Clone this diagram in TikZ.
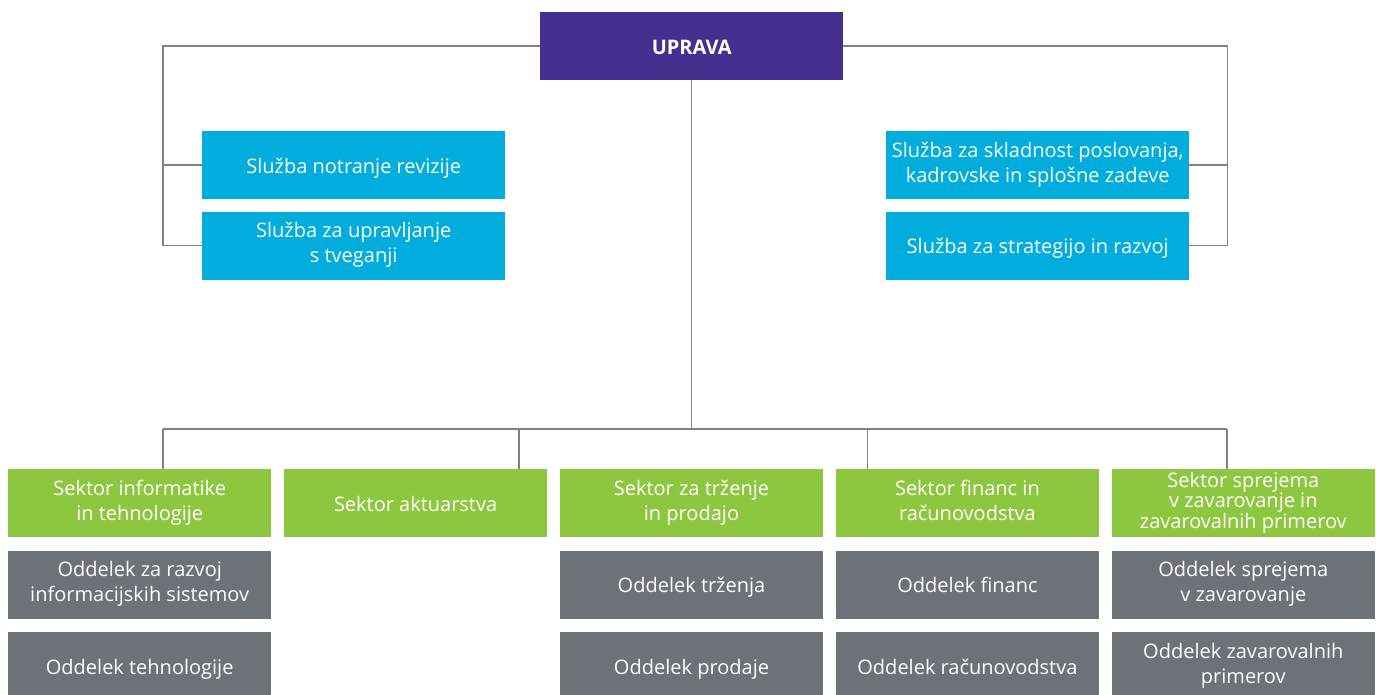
\documentclass[tikz,border=0pt]{standalone}
\usepackage{fontspec}
\setmainfont{Open Sans}
\usetikzlibrary{positioning}
\definecolor{upravaviolet}{RGB}{70,48,143}
\definecolor{sluzbablue}{RGB}{0,173,220}
\definecolor{sektorgreen}{RGB}{141,198,63}
\definecolor{oddelekgray}{RGB}{109,113,120}
\definecolor{linkgray}{RGB}{130,130,130}
\newcommand{\orgstrut}{\rule[-6pt]{0pt}{28pt}}

\begin{document}
\begin{tikzpicture}[x=1pt, y=-1pt, node distance=13pt and 12.5pt,
    box/.style={anchor=north west, inner sep=0pt, align=center, text=white, font=\fontsize{20}{25}\selectfont,
      execute at begin node=\orgstrut, execute at end node=\orgstrut},
    uprava/.style={box, fill=upravaviolet, minimum width=303pt, minimum height=68pt, font=\bfseries\fontsize{20}{24}\selectfont},
    sluzba/.style={box, fill=sluzbablue, minimum width=303pt, minimum height=68pt},
    sektor/.style={box, fill=sektorgreen, minimum width=263pt, minimum height=68pt},
    oddelek/.style={box, fill=oddelekgray, minimum width=263pt, minimum height=68pt},
    link/.style={draw=linkgray, line width=1.4pt}]
      \useasboundingbox (0,0) rectangle (1376,695);
      % top
      \node[uprava] (upr) at (540,12) {UPRAVA};
      \node[sluzba] (sni) at (202,131) {Služba notranje revizije};
      \node[sluzba, below=12pt of sni] (sut) {Služba za upravljanje\\s tveganji};
      \node[sluzba] (ssk) at (886,131) {Služba za skladnost poslovanja,\\kadrovske in splošne zadeve};
      \node[sluzba, below=12pt of ssk] (ssr) {Služba za strategijo in razvoj};
      % sektorji
      \node[sektor] (g1) at (8,469) {Sektor informatike\\in tehnologije};
      \node[sektor, right=of g1] (g2) {Sektor aktuarstva};
      \node[sektor, right=of g2] (g3) {Sektor za trženje\\in prodajo};
      \node[sektor, right=of g3] (g4) {Sektor financ in\\računovodstva};
      \node[sektor, right=of g4, font=\fontsize{20}{18.5}\selectfont] (g5) {Sektor sprejema\\v zavarovanje in\\zavarovalnih primerov};
      % oddelki
      \node[oddelek, below=of g1] (o11) {Oddelek za razvoj\\informacijskih sistemov};
      \node[oddelek, below=of o11] (o12) {Oddelek tehnologije};
      \node[oddelek, below=of g3] (o31) {Oddelek trženja};
      \node[oddelek, below=of o31] (o32) {Oddelek prodaje};
      \node[oddelek, below=of g4] (o41) {Oddelek financ};
      \node[oddelek, below=of o41] (o42) {Oddelek računovodstva};
      \node[oddelek, below=of g5] (o51) {Oddelek sprejema\\v zavarovanje};
      \node[oddelek, below=of o51] (o52) {Oddelek zavarovalnih\\primerov};
      % povezave
      \draw[link] (upr.west) -| ([xshift=-39pt]sut.west) -- (sut.west);
      \draw[link] (sni.west) -- ++(-39,0);
      \draw[link] (upr.east) -| ([xshift=38pt]ssr.east) -- (ssr.east);
      \draw[link] (ssk.east) -- ++(38,0);
      \coordinate (d1) at (163,429);
      \coordinate (d2) at (519,429);
      \coordinate (d4) at (867.5,429);
      \coordinate (d5) at (1227,429);
      \draw[link] (upr.south) -- (upr.south |- d1);
      \draw[link] (d1) -- (d5);
      \foreach \d/\g in {d1/g1, d2/g2, d4/g4, d5/g5}
        \draw[link] (\d) -- (\d |- \g.north);
\end{tikzpicture}
\end{document}
